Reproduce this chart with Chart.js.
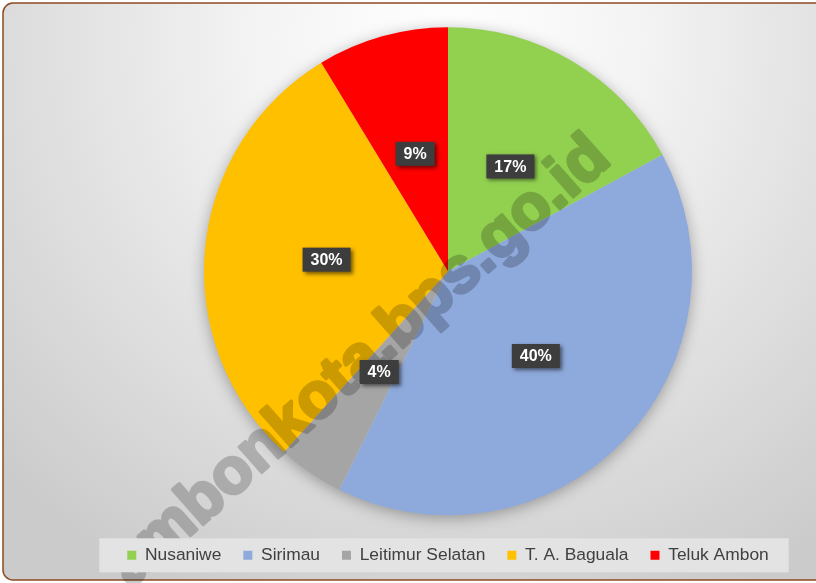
<!DOCTYPE html>
<html>
<head>
<meta charset="utf-8">
<script src="https://cdn.jsdelivr.net/npm/chart.js@4/dist/chart.umd.min.js"></script>
<style>
  html, body { margin: 0; padding: 0; background: #ffffff; overflow: hidden; }
  #wrap { position: relative; width: 816px; height: 583px; }
</style>
</head>
<body>
<div id="wrap"><canvas id="pieChart"></canvas></div>
<script>
// ========================
// DATA
// ========================
const districts = ["Nusaniwe", "Sirimau", "Leitimur Selatan", "T. A. Baguala", "Teluk Ambon"];
const shares = [17.1, 40.3, 4.4, 29.6, 8.7];
const sliceColors = ["#92D050", "#8EA9DB", "#A5A5A5", "#FFC000", "#FF0000"];
const watermarkText = "ambonkota.bps.go.id";

// ========================
// PLUGINS
// ========================
const framePlugin = {
  id: "frame",
  beforeDraw(chart) {
    const ctx = chart.ctx;
    ctx.save();
    const g = ctx.createRadialGradient(448, 40, 0, 448, 40, 620);
    g.addColorStop(0, "#ffffff");
    g.addColorStop(0.3, "#f4f4f4");
    g.addColorStop(1, "#cbcbcb");
    ctx.beginPath();
    ctx.roundRect(3, 3, 840, 577, 10);
    ctx.fillStyle = g;
    ctx.fill();
    ctx.lineWidth = 1.5;
    ctx.strokeStyle = "#8a4b22";
    ctx.stroke();
    ctx.restore();
  }
};

const pieShadow = {
  id: "pieShadow",
  beforeDatasetsDraw(chart) {
    const arc = chart.getDatasetMeta(0).data[0];
    if (!arc) return;
    const ctx = chart.ctx;
    ctx.save();
    ctx.shadowColor = "rgba(0,0,0,0.35)";
    ctx.shadowBlur = 16;
    ctx.shadowOffsetY = 3;
    ctx.beginPath();
    ctx.arc(arc.x, arc.y, arc.outerRadius - 1, 0, Math.PI * 2);
    ctx.fillStyle = "#cccccc";
    ctx.fill();
    ctx.restore();
  }
};

function drawWatermark(chart) {
  // draw opaque on a scratch canvas, then blend once so stroke + fill don't double up
  const off = document.createElement("canvas");
  off.width = chart.width;
  off.height = chart.height;
  const o = off.getContext("2d");
  o.translate(360, 362);
  o.rotate(-41.5 * Math.PI / 180);
  o.font = "bold 64px 'Liberation Sans', Arial, sans-serif";
  o.textAlign = "center";
  o.textBaseline = "middle";
  o.fillStyle = "#000";
  o.strokeStyle = "#000";
  o.lineWidth = 3.5;
  o.lineJoin = "round";
  o.strokeText(watermarkText, 0, 0);
  o.fillText(watermarkText, 0, 0);
  const ctx = chart.ctx;
  ctx.save();
  ctx.setTransform(1, 0, 0, 1, 0, 0);
  ctx.globalAlpha = 0.2;
  ctx.drawImage(off, 0, 0);
  ctx.restore();
}

const overlayPlugin = {
  id: "overlay",
  afterDatasetsDraw(chart) {
    const ctx = chart.ctx;
    drawWatermark(chart);

    // data labels
    const meta = chart.getDatasetMeta(0);
    const total = shares.reduce((a, b) => a + b, 0);
    meta.data.forEach((arc, i) => {
      const p = arc.getCenterPoint();
      const txt = Math.round(shares[i] / total * 100) + "%";
      ctx.save();
      ctx.font = "bold 16px 'Liberation Sans', Arial, sans-serif";
      const w = ctx.measureText(txt).width + 16;
      const h = 24;
      ctx.shadowColor = "rgba(0,0,0,0.55)";
      ctx.shadowBlur = 4;
      ctx.shadowOffsetX = 2;
      ctx.shadowOffsetY = 2;
      ctx.fillStyle = "#3d3d3d";
      ctx.fillRect(p.x - w / 2, p.y - h / 2, w, h);
      ctx.shadowColor = "transparent";
      ctx.fillStyle = "#ffffff";
      ctx.textAlign = "center";
      ctx.textBaseline = "middle";
      ctx.fillText(txt, p.x, p.y + 1);
      ctx.restore();
    });
  },
  afterDraw(chart) {
    const lg = chart.legend;
    if (!lg || !lg.legendHitBoxes.length) return;
    const boxes = lg.legendHitBoxes;
    const first = boxes[0];
    const last = boxes[boxes.length - 1];
    const ctx = chart.ctx;
    const cy = first.top + first.height / 2;
    ctx.save();
    ctx.fillStyle = "#e3e3e3";
    ctx.fillRect(first.left - 28, cy - 17, last.left + last.width - first.left + 48, 34);
    ctx.restore();
    lg.draw();
  }
};

// ========================
// CHART
// ========================
const ctx = document.getElementById("pieChart").getContext("2d");
new Chart(ctx, {
  type: "pie",
  data: {
    labels: districts,
    datasets: [{
      data: shares,
      backgroundColor: sliceColors,
      borderWidth: 0,
      hoverOffset: 0,
      radius: 244
    }]
  },
  options: {
    responsive: true,
    maintainAspectRatio: false,
    animation: false,
    layout: { padding: { left: 80, right: 0, top: 18, bottom: 9 } },
    plugins: {
      legend: {
        position: "bottom",
        labels: {
          boxWidth: 9,
          boxHeight: 9,
          padding: 22,
          color: "#404040",
          font: { family: "'Liberation Sans', Arial, sans-serif", size: 17.4 }
        }
      },
      tooltip: { enabled: false }
    }
  },
  plugins: [framePlugin, pieShadow, overlayPlugin]
});
</script>
</body>
</html>
